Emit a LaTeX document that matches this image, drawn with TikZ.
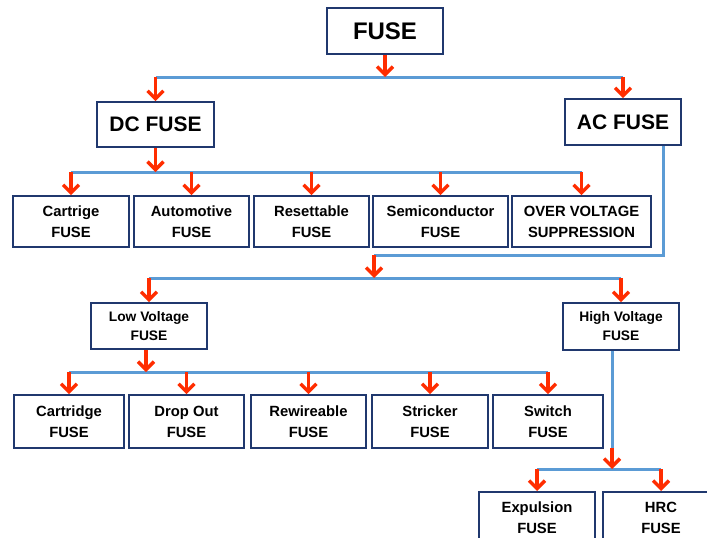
\documentclass[tikz,border=0pt]{standalone}
\usepackage{fontspec}
\setmainfont{Liberation Sans}
\usetikzlibrary{arrows.meta}
\definecolor{boxblue}{RGB}{32,56,110}
\definecolor{linblue}{RGB}{91,155,213}
\definecolor{arrred}{RGB}{255,45,0}
\tikzset{
  box/.style={draw=boxblue, line width=1.6pt, fill=white, align=center, inner sep=0pt,
    font=\bfseries\fontsize{14.8}{21}\selectfont},
  bigbox/.style={box, font=\bfseries\fontsize{21}{24}\selectfont},
  midbox/.style={box, font=\bfseries\fontsize{13.8}{19}\selectfont},
  bus/.style={draw=linblue, line width=3pt, line join=miter},
  arr/.style={draw=arrred, line width=3.4pt, -{Straight Barb[length=8pt,width=16pt]}},
}
\begin{document}
\begin{tikzpicture}[x=1pt,y=-1pt]
\useasboundingbox (0,0) rectangle (707,538);
\clip (0,0) rectangle (707,538);
\fill[white] (0,0) rectangle (707,538);

% level 0 and 1
\node[box, minimum width=116pt, minimum height=46pt, font=\bfseries\fontsize{24}{26}\selectfont] (fuse) at (385,31) {FUSE};
\node[bigbox, minimum width=117pt, minimum height=45pt] (dc) at (155.5,124.5) {DC FUSE};
\node[bigbox, minimum width=116pt, minimum height=46pt] (ac) at (623,122) {AC FUSE};

% DC children
\node[box, minimum width=116pt, minimum height=51pt] (c1) at (71,221.5) {Cartrige\\FUSE};
\node[box, minimum width=115pt, minimum height=51pt] (c2) at (191.5,221.5) {Automotive\\FUSE};
\node[box, minimum width=115pt, minimum height=51pt] (c3) at (311.5,221.5) {Resettable\\FUSE};
\node[box, minimum width=135pt, minimum height=51pt] (c4) at (440.5,221.5) {Semiconductor\\FUSE};
\node[box, minimum width=139pt, minimum height=51pt] (c5) at (581.5,221.5) {OVER VOLTAGE\\SUPPRESSION};

% AC children
\node[midbox, minimum width=116pt, minimum height=46pt] (low) at (149,326) {Low Voltage\\FUSE};
\node[midbox, minimum width=116pt, minimum height=47pt] (high) at (621,326.5) {High Voltage\\FUSE};

% Low voltage children
\node[box, minimum width=110pt, minimum height=53pt] (d1) at (69,421.5) {Cartridge\\FUSE};
\node[box, minimum width=115pt, minimum height=53pt] (d2) at (186.5,421.5) {Drop Out\\FUSE};
\node[box, minimum width=115pt, minimum height=53pt] (d3) at (308.5,421.5) {Rewireable\\FUSE};
\node[box, minimum width=116pt, minimum height=53pt] (d4) at (430,421.5) {Stricker\\FUSE};
\node[box, minimum width=110pt, minimum height=53pt] (d5) at (548,421.5) {Switch\\FUSE};

% High voltage children (cut off by the lower edge)
\node[box, minimum width=116pt, minimum height=52pt, anchor=north] (e1) at (537,491) {Expulsion\\FUSE};
\node[box, minimum width=116pt, minimum height=52pt, anchor=north] (e2) at (661,491) {HRC\\FUSE};

% bus coordinates
\coordinate (bus1) at (385,77);
\coordinate (bus2) at (155,172);
\coordinate (acj) at (663,255);
\coordinate (bus3a) at (374,255);
\coordinate (bus3) at (374,278);
\coordinate (bus4) at (146,372);
\coordinate (hj) at (612,448);
\coordinate (bus5) at (612,469);

% FUSE -> DC / AC
\draw[bus] (dc.north |- bus1) -- (ac.north |- bus1);
\draw[arr] (fuse.south) -- (fuse.south |- bus1);
\draw[arr] (dc.north |- bus1) -- (dc.north);
\draw[arr] (ac.north |- bus1) -- (ac.north);

% DC -> children
\draw[bus] (c1.north |- bus2) -- (c5.north |- bus2);
\draw[arr] (dc.south) -- (dc.south |- bus2);
\foreach \n in {c1,c2,c3,c4,c5}{
  \draw[arr] (\n.north |- bus2) -- (\n.north);
}

% AC -> Low / High
\draw[bus] (ac.south -| acj) -- (acj) -- (bus3a);
\draw[bus] (low.north |- bus3) -- (high.north |- bus3);
\draw[arr] (bus3a) -- (bus3);
\draw[arr] (low.north |- bus3) -- (low.north);
\draw[arr] (high.north |- bus3) -- (high.north);

% Low -> children
\draw[bus] (d1.north |- bus4) -- (d5.north |- bus4);
\draw[arr] (low.south -| bus4) -- (bus4);
\foreach \n in {d1,d2,d3,d4,d5}{
  \draw[arr] (\n.north |- bus4) -- (\n.north);
}

% High -> children
\draw[bus] (high.south -| hj) -- (hj);
\draw[bus] (e1.north |- bus5) -- (e2.north |- bus5);
\draw[arr] (hj) -- (bus5);
\draw[arr] (e1.north |- bus5) -- (e1.north);
\draw[arr] (e2.north |- bus5) -- (e2.north);
\end{tikzpicture}
\end{document}
